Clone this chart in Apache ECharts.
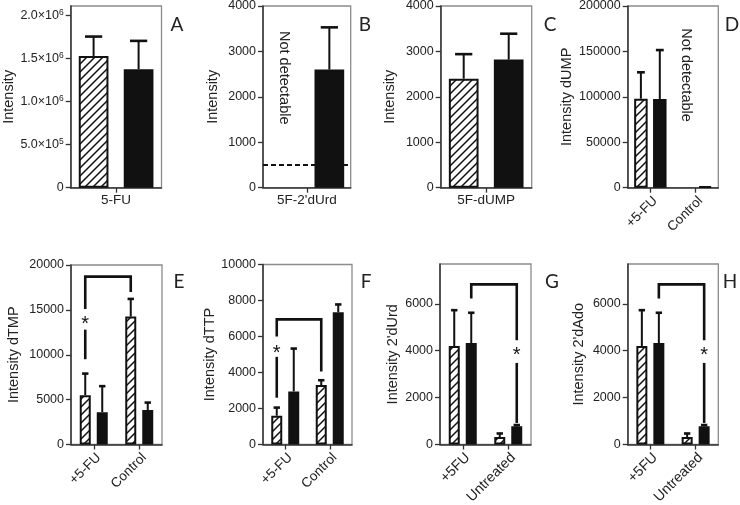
<!DOCTYPE html>
<html><head><meta charset="utf-8">
<script src="https://cdn.jsdelivr.net/npm/echarts@6/dist/echarts.min.js"></script>
<style>html,body{margin:0;padding:0;background:#fff}#c{width:740px;height:505px}</style>
</head><body><div id="c"></div>
<script>
// ---------------- DATA ----------------
// A: 5-FU
const catsA = ['5-FU'];
const hatchA = [1530000], hatchErrA = [225000];
const solidA = [1375000], solidErrA = [330000];
const ticksA = [0, 500000, 1000000, 1500000, 2000000];
// B: 5F-2'dUrd (hatched not detectable)
const catsB = ["5F-2'dUrd"];
const hatchB = [null], hatchErrB = [null];
const solidB = [2600], solidErrB = [930];
const detectionLimitB = 500;
const ticksB = [0, 1000, 2000, 3000, 4000];
// C: 5F-dUMP
const catsC = ['5F-dUMP'];
const hatchC = [2400], hatchErrC = [540];
const solidC = [2820], solidErrC = [570];
const ticksC = [0, 1000, 2000, 3000, 4000];
// D: dUMP
const catsD = ['+5-FU', 'Control'];
const hatchD = [98000, null], hatchErrD = [29000, null];
const solidD = [97500, 1500], solidErrD = [54000, 0];
const ticksD = [0, 50000, 100000, 150000, 200000];
// E: dTMP
const catsE = ['+5-FU', 'Control'];
const hatchE = [5500, 14250], hatchErrE = [2400, 1970];
const solidE = [3600, 3850], solidErrE = [2900, 820];
const ticksE = [0, 5000, 10000, 15000, 20000];
// F: dTTP
const catsF = ['+5-FU', 'Control'];
const hatchF = [1600, 3300], hatchErrF = [450, 270];
const solidF = [2950, 7350], solidErrF = [2380, 430];
const ticksF = [0, 2000, 4000, 6000, 8000, 10000];
// G: 2'dUrd
const catsG = ['+5FU', 'Untreated'];
const hatchG = [4200, 320], hatchErrG = [1530, 150];
const solidG = [4330, 780], solidErrG = [1290, 50];
const ticksG = [0, 2000, 4000, 6000];
// H: 2'dAdo
const catsH = ['+5FU', 'Untreated'];
const hatchH = [4200, 320], hatchErrH = [1530, 150];
const solidH = [4330, 780], solidErrH = [1290, 50];
const ticksH = [0, 2000, 4000, 6000];

// annotations in data space: [cat0, bar0, cat1, bar1, yTop, yLeftEnd, yRightEnd]
const bracketE = [[0, 0, 1, 0, 18700, 15100, 17000]];
const bracketF = [[0, 0, 1, 0, 6950, 6000, 4050]];
const bracketG = [[0, 1, 1, 1, 6830, 6230, 4450]];
const bracketH = [[0, 1, 1, 1, 6830, 6230, 4450]];
// stars: [cat, bar, yStar, yLineTop, yLineBottom]
const starE = [[0, 0, 13800, 12800, 9500]];
const starF = [[0, 0, 5300, 4870, 2600]];
const starG = [[1, 1, 3950, 3480, 920]];
const starH = [[1, 1, 3950, 3480, 920]];
// "Not detectable" notes: [cat, bar, yCenter]
const notDetB = [[0, 0, 2420]];
const notDetD = [[1, 0, 124000]];

// ---------------- LAYOUT ----------------
const FONT = "'Liberation Sans', Arial, sans-serif";
const panels = [
  {L:'A', cats:catsA, h:hatchA, he:hatchErrA, s:solidA, se:solidErrA, ticks:ticksA, max:2110000, sci:true,
   name:'Intensity', grid:[70.7,6,90.8,181.7], bw:29.7, gap:15.3, nameGap:54, rot:0, cfs:13.5, letter:[177,25]},
  {L:'B', cats:catsB, h:hatchB, he:hatchErrB, s:solidB, se:solidErrB, ticks:ticksB, max:4000,
   name:'Intensity', grid:[263,6,87.7,181.7], bw:29.7, gap:15.3, nameGap:43, rot:0, cfs:13.5, letter:[365,25], dash:detectionLimitB, note:notDetB},
  {L:'C', cats:catsC, h:hatchC, he:hatchErrC, s:solidC, se:solidErrC, ticks:ticksC, max:4000,
   name:'Intensity', grid:[440.7,6,91,181.7], bw:29.7, gap:15.3, nameGap:43, rot:0, cfs:13.5, letter:[550,25]},
  {L:'D', cats:catsD, h:hatchD, he:hatchErrD, s:solidD, se:solidErrD, ticks:ticksD, max:200000,
   name:'Intensity dUMP', grid:[627.7,6,90.6,181.7], bw:13.5, gap:5.4, nameGap:53, rot:45, cfs:13.5, letter:[732,25], note:notDetD},
  {L:'E', cats:catsE, h:hatchE, he:hatchErrE, s:solidE, se:solidErrE, ticks:ticksE, max:20000,
   name:'Intensity dTMP', grid:[71,265,91,179.5], bw:11, gap:6, nameGap:50, rot:45, cfs:13.5, letter:[179,282], br:bracketE, st:starE},
  {L:'F', cats:catsF, h:hatchF, he:hatchErrF, s:solidF, se:solidErrF, ticks:ticksF, max:10000,
   name:'Intensity dTTP', grid:[263,264.5,89,180], bw:11, gap:6, nameGap:41, rot:45, cfs:13.5, letter:[366,282], br:bracketF, st:starF},
  {L:'G', cats:catsG, h:hatchG, he:hatchErrG, s:solidG, se:solidErrG, ticks:ticksG, max:7700,
   name:"Intensity 2'dUrd", grid:[440,264,91,180.5], bw:11, gap:6, nameGap:40, rot:45, cfs:14.2, letter:[552,282], br:bracketG, st:starG},
  {L:'H', cats:catsH, h:hatchH, he:hatchErrH, s:solidH, se:solidErrH, ticks:ticksH, max:7700,
   name:"Intensity 2'dAdo", grid:[627.7,264,90.6,180.5], bw:11, gap:6, nameGap:41, rot:45, cfs:14.2, letter:[730,282], br:bracketH, st:starH}
];

// hatch pattern
const pc = document.createElement('canvas');
pc.width = 8; pc.height = 8;
const g2 = pc.getContext('2d');
g2.fillStyle = '#fff'; g2.fillRect(0,0,8,8);
g2.strokeStyle = '#111'; g2.lineWidth = 1.5;
g2.beginPath();
g2.moveTo(-1,9); g2.lineTo(9,-1);
g2.moveTo(-5,5); g2.lineTo(5,-5);
g2.moveTo(3,13); g2.lineTo(13,3);
g2.stroke();
const hatchFill = {image: pc, repeat: 'repeat'};

function sciFmt(v){
  if (v === 0) return '0';
  const e = Math.floor(Math.log10(v));
  const m = (v / Math.pow(10, e)).toFixed(1);
  return '{m|' + m + '×10}{s|' + e + '}';
}

const grids = [], xAxes = [], yAxes = [], series = [], graphics = [];
panels.forEach((p, i) => {
  const off = b => (b === 0 ? -1 : 1) * (p.bw + p.gap) / 2;
  grids.push({left:p.grid[0], top:p.grid[1], width:p.grid[2], height:p.grid[3],
    show:true, borderColor:'#8c8c8c', borderWidth:1.3, backgroundColor:'transparent',
    containLabel:false, outerBoundsMode:'none'});
  const xl = {interval:0, rotate:p.rot, fontSize:p.cfs, color:'#222', fontFamily:FONT, margin:6};
  if (p.rot) xl.verticalAlign = 'top';
  xAxes.push({type:'category', gridIndex:i, data:p.cats,
    axisLine:{show:true, onZero:false, lineStyle:{color:'#333', width:1.5}},
    axisTick:{show:true, alignWithLabel:true, length:5, lineStyle:{color:'#333', width:1.3}},
    axisLabel:xl,
    splitLine:{show:false}});
  yAxes.push({type:'value', gridIndex:i, min:0, max:p.max,
    axisLine:{show:true, lineStyle:{color:'#333', width:1.5}},
    axisTick:{show:true, length:5, customValues:p.ticks, lineStyle:{color:'#333', width:1.3}},
    axisLabel:{customValues:p.ticks, fontSize:12.5, color:'#222', fontFamily:FONT, margin:7,
      formatter: p.sci ? sciFmt : (v => String(v)),
      rich:{m:{fontSize:12.5, color:'#222', fontFamily:FONT}, s:{fontSize:8.5, color:'#222', fontFamily:FONT, verticalAlign:'top', padding:[0,0,5,0]}}},
    splitLine:{show:false},
    name:p.name, nameLocation:'middle', nameGap:p.nameGap,
    nameTextStyle:{fontSize:14.5, color:'#222', fontFamily:FONT}});
  const barGap = (p.gap / p.bw * 100).toFixed(1) + '%';
  series.push({type:'bar', xAxisIndex:i, yAxisIndex:i, data:p.h, barWidth:p.bw, barGap:barGap,
    itemStyle:{color:hatchFill, borderColor:'#111', borderWidth:2}, silent:true, z:2});
  const solid = {type:'bar', xAxisIndex:i, yAxisIndex:i, data:p.s, barWidth:p.bw, barGap:barGap,
    itemStyle:{color:'#111', borderColor:'#111', borderWidth:2}, silent:true, z:2};
  if (p.dash != null) {
    solid.markLine = {silent:true, symbol:['none','none'], label:{show:false},
      lineStyle:{type:[5,3], color:'#111', width:2}, data:[{yAxis:p.dash}]};
  }
  series.push(solid);
  // error bars
  const errData = [];
  p.h.forEach((v,k) => { if (v != null && p.he[k]) errData.push([k, v, p.he[k], 0]); });
  p.s.forEach((v,k) => { if (v != null && p.se[k]) errData.push([k, v, p.se[k], 1]); });
  series.push({type:'custom', xAxisIndex:i, yAxisIndex:i, z:4, silent:true, data:errData,
    renderItem:(params, api) => {
      const c = api.value(0), v = api.value(1), e = api.value(2), b = api.value(3);
      const p0 = api.coord([c, v]), p1 = api.coord([c, v + e]);
      const x = p0[0] + off(b), cw = p.bw * 0.58;
      return {type:'group', children:[
        {type:'line', shape:{x1:x, y1:p0[1], x2:x, y2:p1[1]}, style:{stroke:'#111', lineWidth:2}},
        {type:'line', shape:{x1:x - cw/2, y1:p1[1], x2:x + cw/2, y2:p1[1]}, style:{stroke:'#111', lineWidth:2.6}}
      ]};
    }});
  if (p.br) {
    series.push({type:'custom', xAxisIndex:i, yAxisIndex:i, z:5, silent:true, data:p.br,
      renderItem:(params, api) => {
        const x0 = api.coord([api.value(0), 0])[0] + off(api.value(1));
        const x1 = api.coord([api.value(2), 0])[0] + off(api.value(3));
        const yT = api.coord([0, api.value(4)])[1];
        const yL = api.coord([0, api.value(5)])[1];
        const yR = api.coord([0, api.value(6)])[1];
        return {type:'polyline', shape:{points:[[x0,yL],[x0,yT],[x1,yT],[x1,yR]]},
          style:{stroke:'#111', lineWidth:2.6, fill:null, lineJoin:'miter'}};
      }});
  }
  if (p.st) {
    series.push({type:'custom', xAxisIndex:i, yAxisIndex:i, z:5, silent:true, data:p.st,
      renderItem:(params, api) => {
        const x = api.coord([api.value(0), 0])[0] + off(api.value(1));
        const ys = api.coord([0, api.value(2)])[1];
        const y1 = api.coord([0, api.value(3)])[1];
        const y2 = api.coord([0, api.value(4)])[1];
        return {type:'group', children:[
          {type:'text', x:x, y:ys + 4, style:{text:'*', fontSize:20, fontFamily:FONT, fill:'#111', align:'center', verticalAlign:'middle'}},
          {type:'line', shape:{x1:x, y1:y1, x2:x, y2:y2}, style:{stroke:'#111', lineWidth:2.6}}
        ]};
      }});
  }
  if (p.note) {
    series.push({type:'custom', xAxisIndex:i, yAxisIndex:i, z:5, silent:true, data:p.note,
      renderItem:(params, api) => {
        const x = api.coord([api.value(0), 0])[0] + off(api.value(1));
        const y = api.coord([0, api.value(2)])[1];
        return {type:'text', x:x, y:y, rotation:-Math.PI/2,
          style:{text:'Not detectable', fontSize:14.5, fontFamily:FONT, fill:'#222', align:'center', verticalAlign:'middle'}};
      }});
  }
  graphics.push({type:'text', x:p.letter[0], y:p.letter[1],
    style:{text:p.L, fontSize:19, fontFamily:'Lato, "Open Sans", sans-serif', fill:'#222', align:'center', verticalAlign:'middle'}});
});

const chart = echarts.init(document.getElementById('c'), null, {renderer:'canvas', width:740, height:505});
chart.setOption({
  animation:false,
  backgroundColor:'#fff',
  grid:grids, xAxis:xAxes, yAxis:yAxes, series:series, graphic:graphics
});
</script>
</body></html>
